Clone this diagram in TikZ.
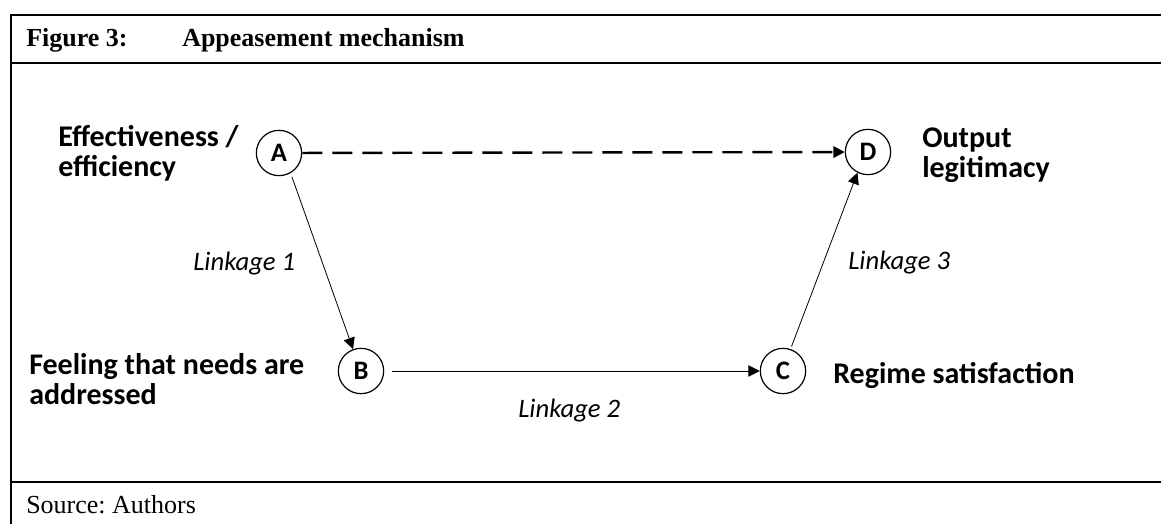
\documentclass[tikz,border=0pt]{standalone}
\usepackage{fontspec}
\setmainfont{Liberation Serif}
\newfontfamily\calibri{Carlito}
\usetikzlibrary{arrows.meta}
\frenchspacing
\tikzset{
	stage/.style={draw, circle, line width=0.9pt, minimum size=34pt, inner sep=0pt, font=\calibri\bfseries\fontsize{20}{22}\selectfont},
	stagelabel/.style={anchor=base west, inner sep=0pt, align=left, font=\calibri\bfseries\fontsize{22.5}{22.5}\selectfont},
	linklabel/.style={anchor=base west, inner sep=0pt, font=\calibri\itshape\fontsize{20}{24}\selectfont},
	headtext/.style={anchor=base west, inner sep=0pt, font=\fontsize{19.5}{22}\selectfont},
	link/.style={line width=0.6pt, -{Triangle[length=8.5pt, width=8.5pt]}},
	frameline/.style={line width=1.5pt}
}
\begin{document}
\begin{tikzpicture}[x=0.75pt, y=-0.75pt]
				\useasboundingbox (0,0) rectangle (1161,524);
				
				\draw[frameline] (11,15) -- (1161,15);
				\draw[frameline] (11,63) -- (1161,63);
				\draw[frameline] (11,482) -- (1161,482);
				\draw[frameline] (11,14) -- (11,524);
				
				\node[headtext, font=\bfseries\fontsize{19.5}{22}\selectfont] (fignum) at (26,47) {Figure 3:};
				\node[headtext, font=\bfseries\fontsize{19.5}{22}\selectfont] (figtitle) at (182,47) {Appeasement mechanism};
				\node[headtext] (source) at (26,513) {Source: Authors};
				
				\node[stage] (A) at (279,153) {A};
				\node[stage] (B) at (361,371) {B};
				\node[stage] (C) at (783,371) {C};
				\node[stage] (D) at (868,152) {D};
				
				\node[stagelabel] (labA) at (58,177) {Effectiveness /\\efficiency};
				\node[stagelabel] (labB) at (29,404) {Feeling that needs are\\addressed};
				\node[stagelabel] (labC) at (833,383) {Regime satisfaction};
				\node[stagelabel] (labD) at (922,178) {Output\\legitimacy};
				
				\draw[link, line width=1.8pt, dash pattern=on 15pt off 7.5pt] (A) -- (D);
				\draw[link, shorten <=3pt] (A.-60) -- (B.110);
				\draw[link, shorten <=6pt] (B) -- (C);
				\draw[link, shorten <=2pt] (C.71) -- (D.243);
				
				\node[linklabel] (link1) at (193,271) {Linkage 1};
				\node[linklabel] (link2) at (518,417) {Linkage 2};
				\node[linklabel] (link3) at (848,270) {Linkage 3};
\end{tikzpicture}
\end{document}
